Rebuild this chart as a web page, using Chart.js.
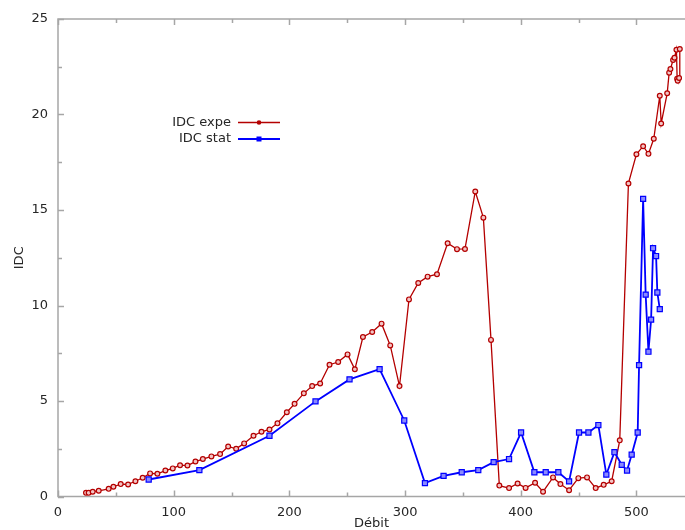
<!DOCTYPE html>
<html>
<head>
<meta charset="utf-8">
<title>IDC</title>
<script src="https://cdn.jsdelivr.net/npm/chart.js@4.4.1/dist/chart.umd.min.js"></script>
<style>
  html, body { margin: 0; padding: 0; background: #fff; }
  #wrap { width: 685px; height: 530px; }
</style>
</head>
<body>
<div id="wrap"><canvas id="idc" width="685" height="530"></canvas></div>
<script>
// Débit / IDC measurements
const expeX = [24.2, 26.5, 30.0, 35.2, 43.8, 47.9, 54.2, 60.6, 66.9, 73.2,
  79.6, 85.9, 92.8, 99.2, 105.5, 111.9, 118.8, 125.2, 132.6, 140.1,
  147.1, 154.0, 160.9, 169.0, 175.9, 182.8, 189.7, 197.8, 204.5, 212.5,
  219.7, 226.6, 234.7, 242.2, 250.3, 256.6, 263.6, 271.6, 279.7, 287.2,
  295.2, 303.4, 311.4, 319.5, 327.6, 336.8, 344.9, 351.8, 360.7, 367.7,
  374.3, 381.5, 389.9, 397.3, 404.2, 412.4, 419.3, 427.9, 434.3, 441.8,
  449.8, 457.3, 464.8, 471.7, 478.6, 485.6, 493.1, 500.0, 505.8, 510.4,
  515.0, 520.2, 521.4, 526.6, 528.3, 529.4, 531.7, 532.9, 534.6, 535.2,
  535.7, 536.9, 537.5];
const expeY = [0.19, 0.19, 0.25, 0.30, 0.40, 0.51, 0.65, 0.63, 0.80, 0.98,
  1.21, 1.19, 1.36, 1.47, 1.64, 1.62, 1.83, 1.96, 2.10, 2.22,
  2.62, 2.50, 2.78, 3.18, 3.39, 3.51, 3.83, 4.41, 4.85, 5.40,
  5.78, 5.92, 6.90, 7.04, 7.44, 6.66, 8.35, 8.61, 9.05, 7.91,
  5.78, 10.32, 11.18, 11.51, 11.64, 13.26, 12.95, 12.96, 15.97, 14.60,
  8.20, 0.57, 0.44, 0.68, 0.45, 0.72, 0.25, 1.00, 0.65, 0.33,
  0.96, 1.00, 0.44, 0.61, 0.80, 2.94, 16.39, 17.92, 18.34, 17.94,
  18.73, 20.98, 19.53, 21.11, 22.19, 22.38, 22.85, 22.97, 23.39, 21.87,
  21.77, 21.91, 23.43];

const statX = [78.4, 122.2, 182.8, 222.6, 252.0, 278.0, 299.3, 317.2, 333.3, 349.0,
  363.3, 376.6, 389.9, 400.3, 411.8, 421.6, 432.5, 441.8, 450.4, 458.5,
  467.1, 474.0, 481.0, 487.3, 491.9, 495.9, 501.1, 502.3, 505.8, 508.0,
  510.4, 512.7, 514.4, 517.0, 518.1, 520.2];
const statY = [0.89, 1.38, 3.18, 4.98, 6.13, 6.67, 3.98, 0.70, 1.08, 1.27,
  1.38, 1.80, 1.96, 3.35, 1.27, 1.27, 1.27, 0.79, 3.35, 3.35,
  3.74, 1.15, 2.32, 1.66, 1.36, 2.19, 3.35, 6.88, 15.58, 10.57,
  7.58, 9.26, 13.00, 12.59, 10.68, 9.81];

const xLimits = [0, 542];
const yLimits = [0, 25];
const xStep = 100;
const yStep = 5;

const FONT = 'DejaVu Sans';
const AXIS_GRAY = '#a6a6a6';
const TEXT_COLOR = '#262626';

function pairs(xs, ys) {
  return xs.map((x, i) => ({ x, y: ys[i] }));
}

// box on left / top / bottom with inward ticks (major + half-step minor)
const frameTicks = {
  id: 'frameTicks',
  beforeDatasetsDraw(chart) {
    const { ctx, chartArea: a, scales } = chart;
    const xs = scales.x, ys = scales.y;
    ctx.save();
    ctx.strokeStyle = AXIS_GRAY;
    ctx.lineWidth = 1.5;
    ctx.beginPath();
    ctx.moveTo(a.right + 2, a.top);
    ctx.lineTo(a.left, a.top);
    ctx.lineTo(a.left, a.bottom);
    ctx.lineTo(a.right + 2, a.bottom);
    ctx.stroke();

    ctx.beginPath();
    for (let v = xLimits[0]; v <= xLimits[1]; v += xStep / 2) {
      const px = Math.round(xs.getPixelForValue(v)) + 0.5;
      const len = (v % xStep === 0) ? 6 : 4;
      ctx.moveTo(px, a.bottom); ctx.lineTo(px, a.bottom - len);
      ctx.moveTo(px, a.top); ctx.lineTo(px, a.top + len);
    }
    for (let v = yLimits[0]; v <= yLimits[1]; v += yStep / 2) {
      const py = Math.round(ys.getPixelForValue(v)) + 0.5;
      const len = (v % yStep === 0) ? 6 : 4;
      ctx.moveTo(a.left, py); ctx.lineTo(a.left + len, py);
    }
    ctx.stroke();
    ctx.restore();
  }
};

// legend inside the plot: label text, then a line sample with its marker
const sampleLegend = {
  id: 'sampleLegend',
  afterDraw(chart) {
    const { ctx } = chart;
    const textRight = 231, lineL = 238, lineR = 280;
    let y = 122.5;
    ctx.save();
    ctx.font = '13px "' + FONT + '"';
    ctx.textAlign = 'right';
    ctx.textBaseline = 'middle';
    chart.data.datasets.forEach(ds => {
      ctx.fillStyle = TEXT_COLOR;
      ctx.fillText(ds.label, textRight, y);
      ctx.strokeStyle = ds.borderColor;
      ctx.lineWidth = ds.borderWidth;
      ctx.beginPath();
      ctx.moveTo(lineL, y); ctx.lineTo(lineR, y);
      ctx.stroke();
      const mx = (lineL + lineR) / 2;
      ctx.fillStyle = ds.borderColor;
      ctx.beginPath();
      if (ds.pointStyle === 'rect') ctx.rect(mx - 2.5, y - 2.5, 5, 5);
      else ctx.arc(mx, y, 2.3, 0, Math.PI * 2);
      ctx.fill();
      y += 16.5;
    });
    ctx.restore();
  }
};

new Chart(document.getElementById('idc'), {
  type: 'line',
  data: {
    datasets: [
      {
        label: 'IDC expe',
        data: pairs(expeX, expeY),
        borderColor: '#b40000',
        backgroundColor: '#f3c4c4',
        borderWidth: 1.3,
        pointStyle: 'circle',
        pointRadius: 2.4,
        pointBorderWidth: 1.2,
        pointBorderColor: '#b40000',
        pointBackgroundColor: '#f3c4c4',
        tension: 0,
        order: 1
      },
      {
        label: 'IDC stat',
        data: pairs(statX, statY),
        borderColor: '#0000ff',
        backgroundColor: '#8080ff',
        borderWidth: 1.8,
        pointStyle: 'rect',
        pointRadius: 3.6,
        pointBorderWidth: 1.2,
        pointBorderColor: '#0000ff',
        pointBackgroundColor: '#8a8aff',
        tension: 0,
        order: 0
      }
    ]
  },
  options: {
    responsive: false,
    animation: false,
    layout: {
      autoPadding: false,
      padding: { top: 19, right: 0, left: 0, bottom: 0 }
    },
    plugins: {
      legend: { display: false },
      tooltip: { enabled: false }
    },
    scales: {
      x: {
        type: 'linear',
        min: xLimits[0],
        max: xLimits[1],
        grid: { display: false, drawTicks: false },
        border: { display: false },
        ticks: {
          stepSize: xStep,
          includeBounds: false,
          maxRotation: 0,
          padding: 8,
          color: TEXT_COLOR,
          font: { family: FONT, size: 13 }
        },
        title: {
          display: true,
          text: 'Débit',
          color: TEXT_COLOR,
          font: { family: FONT, size: 13, lineHeight: 1 },
          padding: 0
        },
        afterFit(scale) {
          scale.height = 33.5;
          scale.paddingLeft = 0;
          scale.paddingRight = 0;
        }
      },
      y: {
        type: 'linear',
        min: yLimits[0],
        max: yLimits[1],
        grid: { display: false, drawTicks: false },
        border: { display: false },
        ticks: {
          stepSize: yStep,
          padding: 10,
          color: TEXT_COLOR,
          font: { family: FONT, size: 13 }
        },
        title: {
          display: true,
          text: 'IDC',
          color: TEXT_COLOR,
          font: { family: FONT, size: 13, lineHeight: 1 },
          padding: { top: 13, bottom: 0 }
        },
        afterFit(scale) { scale.width = 58; }
      }
    }
  },
  plugins: [frameTicks, sampleLegend]
});
</script>
</body>
</html>
